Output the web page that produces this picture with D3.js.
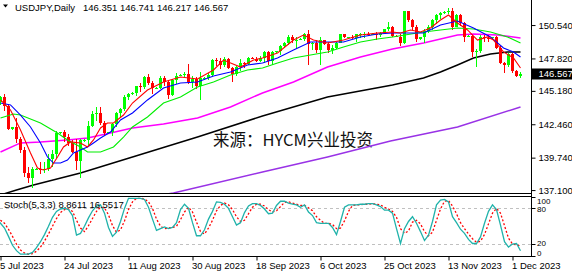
<!DOCTYPE html>
<html><head><meta charset="utf-8">
<script src="https://cdn.jsdelivr.net/npm/d3@7"></script>
<style>body{margin:0;background:#fff;} svg{display:block;}</style>
</head><body>
<svg id="c" width="572" height="271"></svg>
<script>
// ---------- DATA ----------
const dates = ["2023-07-04","2023-07-05","2023-07-06","2023-07-07","2023-07-09","2023-07-10","2023-07-11","2023-07-12","2023-07-13","2023-07-14","2023-07-16","2023-07-17","2023-07-18","2023-07-19","2023-07-20","2023-07-21","2023-07-23","2023-07-24","2023-07-25","2023-07-26","2023-07-27","2023-07-28","2023-07-30","2023-07-31",
"2023-08-01","2023-08-02","2023-08-03","2023-08-04","2023-08-06","2023-08-07","2023-08-08","2023-08-09","2023-08-10","2023-08-11","2023-08-13","2023-08-14","2023-08-15","2023-08-16","2023-08-17","2023-08-18","2023-08-20","2023-08-21","2023-08-22","2023-08-23","2023-08-24","2023-08-25","2023-08-27","2023-08-28","2023-08-29","2023-08-30","2023-08-31",
"2023-09-01","2023-09-03","2023-09-04","2023-09-05","2023-09-06","2023-09-07","2023-09-08","2023-09-10","2023-09-11","2023-09-12","2023-09-13","2023-09-14","2023-09-15","2023-09-17","2023-09-18","2023-09-19","2023-09-20","2023-09-21","2023-09-22","2023-09-24","2023-09-25","2023-09-26","2023-09-27","2023-09-28","2023-09-29",
"2023-10-01","2023-10-02","2023-10-03","2023-10-04","2023-10-05","2023-10-06","2023-10-08","2023-10-09","2023-10-10","2023-10-11","2023-10-12","2023-10-13","2023-10-15","2023-10-16","2023-10-17","2023-10-18","2023-10-19","2023-10-20","2023-10-22","2023-10-23","2023-10-24","2023-10-25","2023-10-26","2023-10-27","2023-10-29","2023-10-30","2023-10-31",
"2023-11-01","2023-11-02","2023-11-03","2023-11-05","2023-11-06","2023-11-07","2023-11-08","2023-11-09","2023-11-10","2023-11-12","2023-11-13","2023-11-14","2023-11-15","2023-11-16","2023-11-17","2023-11-19","2023-11-20","2023-11-21","2023-11-22","2023-11-23","2023-11-24","2023-11-26","2023-11-27","2023-11-28","2023-11-29","2023-11-30",
"2023-12-01","2023-12-03","2023-12-04"];

const open = [144.68,144.30,144.65,143.95,142.05,142.20,141.30,140.35,138.45,138.05,138.75,138.85,138.75,138.85,139.60,140.05,141.75,141.80,141.45,140.90,140.20,139.45,141.15,141.20,
142.30,143.30,143.35,142.55,141.75,141.80,142.45,143.35,143.70,144.70,144.95,145.00,145.55,145.50,146.30,145.85,145.40,145.45,146.20,145.90,144.85,146.10,146.40,146.50,146.55,145.90,146.15,
145.55,146.20,146.25,146.50,147.70,147.65,147.30,147.80,147.05,146.55,147.10,147.45,147.40,147.85,147.80,147.60,147.85,148.35,147.60,148.35,148.40,148.85,149.05,149.60,149.30,
149.35,149.40,149.85,149.00,149.05,148.50,149.30,149.00,148.50,148.70,149.10,149.80,149.55,149.55,149.50,149.80,149.80,149.85,149.80,149.85,149.70,149.90,150.20,150.35,149.65,149.60,149.10,
151.65,150.95,150.40,149.40,149.55,150.05,150.40,150.95,151.35,151.50,151.60,151.70,150.40,151.35,150.70,149.60,149.65,148.35,148.40,149.55,149.50,149.45,149.55,148.70,147.45,147.25,
148.20,146.80,146.35];
const high = [144.75,144.75,144.90,144.15,142.25,143.00,141.45,140.60,139.00,139.00,138.90,139.40,139.40,140.00,140.40,141.95,141.85,142.00,141.65,141.20,141.30,141.30,141.25,142.70,
143.55,143.90,143.90,142.70,141.85,142.60,143.45,143.80,144.85,145.00,145.05,145.60,145.85,146.40,146.55,146.00,145.50,146.40,146.35,146.10,146.15,146.65,146.55,146.75,147.35,146.40,146.30,
146.75,146.30,146.60,147.80,147.85,147.85,147.90,147.85,147.10,147.20,147.75,147.55,147.95,147.95,147.95,148.00,148.45,148.45,148.45,148.45,148.95,149.20,149.70,149.70,149.60,
149.45,149.90,150.16,149.20,149.30,149.55,149.35,149.20,148.90,149.20,149.85,149.85,149.60,149.75,149.85,149.90,150.00,150.00,149.90,150.00,150.00,150.25,150.75,150.45,149.70,149.80,151.70,
151.70,151.05,150.55,149.60,150.20,150.55,151.00,151.45,151.60,151.65,151.90,151.90,151.45,151.45,150.80,149.70,149.70,148.55,149.75,149.70,149.70,149.60,149.65,148.80,147.55,148.30,
148.30,146.85,146.74];
const low = [144.30,144.05,143.55,142.00,142.00,140.95,140.15,138.20,137.70,137.25,138.70,138.40,138.50,138.65,139.00,139.75,141.70,141.00,140.65,140.15,138.75,138.05,141.05,140.70,
142.25,142.70,142.40,141.55,141.65,141.50,142.20,143.05,143.50,144.40,144.85,144.80,145.10,145.35,145.65,144.90,145.30,145.30,145.55,144.55,144.80,145.75,146.35,146.25,145.75,145.45,145.35,
144.45,146.10,146.05,146.30,147.20,146.95,147.10,147.00,145.90,146.40,146.80,147.05,147.30,147.75,147.50,147.55,147.45,147.30,147.30,148.30,148.10,148.70,148.95,149.05,148.55,
149.30,149.25,147.30,148.50,148.30,147.30,148.95,148.30,148.15,148.55,149.05,149.45,149.50,149.40,149.20,149.45,149.50,149.65,149.75,149.35,149.60,149.80,150.05,149.55,149.55,148.80,149.00,
150.75,150.15,149.20,149.35,149.10,149.90,150.15,150.65,151.05,151.45,151.40,150.15,150.35,150.50,149.20,149.55,147.90,147.15,148.30,149.20,149.15,149.40,148.60,147.35,146.65,147.15,
146.65,146.30,146.22];
const close = [144.45,144.65,143.95,142.10,142.20,141.30,140.35,138.45,138.05,138.80,138.85,138.75,138.85,139.60,140.05,141.75,141.80,141.45,140.90,140.20,139.45,141.15,141.20,142.30,
143.30,143.35,142.55,141.75,141.80,142.45,143.35,143.70,144.70,144.95,145.00,145.55,145.50,146.30,145.85,145.40,145.45,146.20,145.90,144.85,146.10,146.40,146.50,146.55,145.90,146.15,145.55,
146.20,146.25,146.50,147.70,147.65,147.30,147.80,147.05,146.55,147.10,147.45,147.40,147.85,147.80,147.60,147.85,148.35,147.60,148.35,148.40,148.85,149.05,149.60,149.30,149.35,
149.40,149.85,149.00,149.05,148.50,149.30,149.00,148.50,148.70,149.10,149.80,149.55,149.55,149.50,149.80,149.80,149.85,149.80,149.85,149.70,149.90,150.20,150.35,149.65,149.60,149.10,151.65,
150.95,150.40,149.40,149.55,150.05,150.40,150.95,151.35,151.50,151.60,151.70,150.40,151.35,150.70,149.60,149.65,148.35,148.40,149.55,149.50,149.45,149.55,148.70,147.45,147.25,148.20,
146.80,146.35,146.57];

// moving averages: [bar index, price]
const maRed = [[1,144.44],[3.5,143.62],[6,141.99],[8.5,140.12],[10.25,138.90],[11.75,138.74],[13.5,138.90],[15.25,139.79],[16.75,140.61],[18.5,141.02],[21,140.94],[22.75,140.61],[24.25,141.18],[26,142.16],[27.75,142.56],[29.25,142.56],[31.75,143.21],[34,144.19],[37.75,145.25],[41.75,145.90],[46,146.31],[50.25,146.15],[54.25,146.88],[56.75,147.69],[61,147.12],[64.25,147.69],[66.5,147.86],[70.25,148.26],[74.25,149.32],[76.75,149.73],[79.25,149.32],[82.75,149.08],[86.75,149.32],[91,149.73],[95.25,149.89],[99,149.97],[101,149.89],[103.5,150.14],[106,149.97],[108.5,150.30],[111,150.95],[113,151.36],[115.25,150.71],[117.75,150.14],[120.25,149.32],[122.75,149.57],[124.25,149.32],[126.75,148.35],[129.25,147.86],[131,147.04]];
const maBlue = [[1,144.19],[3.5,144.03],[6,143.21],[8.5,142.24],[11,140.94],[12.75,139.79],[14.25,139.30],[16,139.30],[17.75,139.55],[19.25,140.12],[21,140.36],[22.75,140.61],[24.25,140.94],[26,141.34],[28.5,141.83],[31,142.81],[34,143.38],[37.75,144.44],[41.75,145.41],[46,145.82],[50.25,145.90],[54.25,146.39],[58.5,146.72],[62.75,147.29],[66.5,147.45],[70.25,147.86],[74.25,148.51],[78.5,149.16],[82.75,149.16],[86.75,149.16],[91,149.57],[95.25,149.81],[99,149.89],[102.75,149.89],[106.75,149.89],[111,150.54],[115.25,150.87],[119.25,150.30],[123.5,149.57],[126.75,148.67],[129.25,148.35],[131,147.94]];
const maGreen = [[1,142.97],[4.25,143.30],[6,143.21],[11,142.56],[15.25,141.75],[17.75,141.18],[21,140.61],[22.75,140.20],[26,140.20],[29.25,140.61],[31.75,141.42],[34,142.24],[37.75,143.05],[41.75,144.19],[46,144.68],[50.25,145.49],[54.25,145.90],[58.5,146.47],[62.75,146.88],[66.5,147.04],[70.25,147.45],[74.25,147.86],[78.5,148.10],[82.75,148.35],[86.75,148.75],[91,149.16],[95.25,149.40],[99,149.57],[106.75,149.97],[115.25,150.30],[119.25,150.22],[123.5,149.97],[127.75,149.57],[131,149.08]];
const maMagenta = [[1,140.20],[6,140.94],[11,141.02],[17.75,141.18],[22.75,141.34],[28.5,141.75],[34,142.16],[41.75,142.48],[50.25,142.97],[58.5,143.87],[66.5,145.01],[74.25,145.90],[82.75,147.12],[91,147.94],[99,148.59],[106.75,149.08],[115.25,149.73],[119.25,149.81],[125.25,149.73],[131,149.49]];
const maBlack = [[1,136.70],[5,137.11],[9.25,137.51],[21,138.49],[34,139.79],[50.25,141.42],[66.5,143.13],[82.75,144.68],[99,145.66],[106.75,146.23],[111,146.72],[115.25,147.29],[119.25,147.86],[123.5,148.18],[127.75,148.35],[131,148.35]];
const maPurple = [[41,136.70],[44.25,136.86],[66.5,138.57],[82.75,139.79],[98.5,141.09],[115.25,142.24],[131,143.87]];

// Stochastic (5,3,3), one value per bar
const stochMain = [62,55,47,33,18,9,3,3,3,6,14,
24,36,50,65,75,79,80,78,68,35,
38,50,64,76,84,86,72,48,33,40,
58,80,97,97,97,97,95,82,62,43,
46,49,46,48,56,78,87,80,56,34,
34,44,62,75,91,90,87,80,66,52,
56,73,84,88,88,85,79,71,72,85,
92,92,89,87,86,82,86,74,68,56,
55,55,55,48,36,58,82,86,86,86,
87,87,88,88,86,83,77,77,72,46,
21,46,58,66,55,41,26,35,58,86,
94,95,91,66,56,45,38,28,21,21,
32,55,75,86,78,52,24,15,20,21,
8.8611];
const stochSignal = [62,60,55,45,33,20,10,5,3,4,8,
15,25,37,50,63,73,78,79,75,60,
47,41,51,63,75,82,81,69,51,40,
44,59,78,91,97,97,96,91,80,62,
50,46,47,48,50,61,74,82,74,57,
41,37,47,60,76,85,89,86,78,66,
58,60,71,82,87,87,84,78,74,76,
83,90,91,89,87,85,85,81,76,66,
60,55,55,53,46,47,59,75,85,86,
86,87,87,88,87,86,82,79,75,65,
46,38,42,57,60,54,41,34,40,60,
79,92,93,84,71,56,46,37,29,23,
25,36,54,72,80,72,51,30,20,19,
16.5517];

const priceTicks = [150.540,147.820,145.180,142.460,139.740,137.100];
const lastPrice = 146.567;
const stochLevels = [80,20];
const stochTickLabels = [100,80,20,0];
const dateTickIdx = [1,17,33,49,65,81,97,113,129];
const titleText = "USDJPY,Daily";
const ohlcText = "146.351 146.741 146.217 146.567";
const stochText = "Stoch(5,3,3) 8.8611 16.5517";
const watermark = "来源：HYCM兴业投资";

// ---------- DRAW ----------
const svg = d3.select("#c");
const FONT = "'Liberation Sans', Arial, sans-serif";
const x = d3.scaleLinear().domain([1,131]).range([0.5,520.5]);
const y = d3.scaleLinear().domain([136.78,152.58]).range([194,0]);
const ys = d3.scaleLinear().domain([0,100]).range([256,196.5]);
const AX = 531.5;

const defs = svg.append("defs");
defs.append("clipPath").attr("id","cp").append("rect").attr("x",0).attr("y",0).attr("width",531).attr("height",193);
defs.append("clipPath").attr("id","cs").append("rect").attr("x",0).attr("y",197).attr("width",531).attr("height",59);

// watermark
svg.append("text").attr("x",213).attr("y",145.5).attr("font-family","'Noto Sans CJK SC', sans-serif")
  .attr("font-size",16.5).attr("fill","#111").text(watermark);

const gp = svg.append("g").attr("clip-path","url(#cp)");
const line = d3.line().x(d=>x(d[0])).y(d=>y(d[1]));
const drawMA = (data,color,w)=>gp.append("path").datum(data).attr("d",line).attr("fill","none").attr("stroke",color).attr("stroke-width",w);
drawMA(maPurple,"#9932e6",1.5);
drawMA(maBlack,"#000000",1.5);
drawMA(maMagenta,"#ff00ff",1.5);

// candles
const idx = d3.range(dates.length);
const cg = gp.append("g").attr("shape-rendering","crispEdges");
cg.selectAll("line").data(idx).join("line")
  .attr("x1",i=>x(i)).attr("x2",i=>x(i))
  .attr("y1",i=>y(high[i])).attr("y2",i=>y(low[i]))
  .attr("stroke",i=>close[i]>=open[i]?"#00ff00":"#ff0000").attr("stroke-width",1);
cg.selectAll("rect").data(idx).join("rect")
  .attr("x",i=>x(i)-1.5).attr("width",3)
  .attr("y",i=>y(Math.max(open[i],close[i])))
  .attr("height",i=>Math.max(1,Math.abs(y(open[i])-y(close[i]))))
  .attr("fill",i=>close[i]>=open[i]?"#00ff00":"#ff0000");

drawMA(maGreen,"#00ee00",1.1);
drawMA(maBlue,"#0000ff",1.1);
drawMA(maRed,"#ff0000",1.1);

// stochastic panel
const gs = svg.append("g").attr("clip-path","url(#cs)");
gs.selectAll("line.lv").data(stochLevels).join("line").attr("class","lv")
  .attr("x1",0).attr("x2",531).attr("y1",d=>Math.round(ys(d))+0.5).attr("y2",d=>Math.round(ys(d))+0.5)
  .attr("stroke","#c0c0c0").attr("stroke-dasharray","3,3");
const sl = d3.line().x((d,i)=>x(i)).y(d=>ys(d));
gs.append("path").datum(stochSignal).attr("d",sl).attr("fill","none").attr("stroke","#ff0000").attr("stroke-width",1.3).attr("stroke-dasharray","2,2");
gs.append("path").datum(stochMain).attr("d",sl).attr("fill","none").attr("stroke","#20b2aa").attr("stroke-width",1.3);

// frames
const fr = svg.append("g").attr("stroke","#000").attr("shape-rendering","crispEdges");
fr.append("line").attr("x1",0).attr("x2",AX).attr("y1",193.5).attr("y2",193.5);
fr.append("line").attr("x1",0).attr("x2",AX).attr("y1",196.5).attr("y2",196.5);
fr.append("line").attr("x1",0).attr("x2",AX).attr("y1",256.5).attr("y2",256.5);
fr.append("line").attr("x1",AX).attr("x2",AX).attr("y1",0).attr("y2",257);

// price axis
const pa = svg.append("g").attr("transform",`translate(${AX},0)`)
  .call(d3.axisRight(y).tickValues(priceTicks).tickSize(4).tickPadding(3).tickFormat(d3.format(".3f")));
pa.select(".domain").remove();
pa.selectAll("text").attr("font-family",FONT).attr("font-size",9.5).attr("fill","#000");
pa.selectAll("line").attr("stroke","#000");

// last price box
svg.append("rect").attr("x",532).attr("y",Math.round(y(lastPrice))-5.5).attr("width",40).attr("height",11).attr("fill","#000");
svg.append("text").attr("x",538.5).attr("y",y(lastPrice)).attr("dy","0.35em").attr("font-family",FONT).attr("font-size",9.5).attr("fill","#fff").text(d3.format(".3f")(lastPrice));

// stoch axis
const sa = svg.append("g");
sa.selectAll("line").data(stochTickLabels).join("line")
  .attr("x1",AX).attr("x2",AX+4).attr("y1",d=>Math.round(ys(d))+0.5).attr("y2",d=>Math.round(ys(d))+0.5).attr("stroke","#000");
const sLabY = {100: 203.5, 80: 212, 20: 245.5, 0: 256};
sa.selectAll("text").data(stochTickLabels).join("text")
  .attr("x",AX+5.5).attr("y",d=>sLabY[d])
  .attr("font-family",FONT).attr("font-size",8).attr("fill","#000").text(d=>String(d));

// date axis
const parse = d3.utcParse("%Y-%m-%d"), fmt = d3.utcFormat("%-d %b %Y");
const da = svg.append("g").attr("transform","translate(0,256.5)")
  .call(d3.axisBottom(x).tickValues(dateTickIdx).tickSize(4).tickFormat(i=>fmt(parse(dates[i]))));
da.select(".domain").remove();
da.selectAll("line").attr("stroke","#000");
da.selectAll("text").attr("text-anchor","start").attr("x",-1).attr("y",6).attr("font-family",FONT).attr("font-size",9.5).attr("fill","#000");

// titles
svg.append("path").attr("d","M3,4.5L8,4.5L5.5,7.5Z").attr("fill","#000");
svg.append("text").attr("x",15).attr("y",10.5).attr("font-family",FONT).attr("font-size",9.5).attr("fill","#000").text(titleText);
svg.append("text").attr("x",83).attr("y",10.5).attr("font-family",FONT).attr("font-size",9.5).attr("fill","#000").text(ohlcText);
svg.append("text").attr("x",4).attr("y",208).attr("font-family",FONT).attr("font-size",9.5).attr("fill","#000").text(stochText);
</script>
</body></html>
